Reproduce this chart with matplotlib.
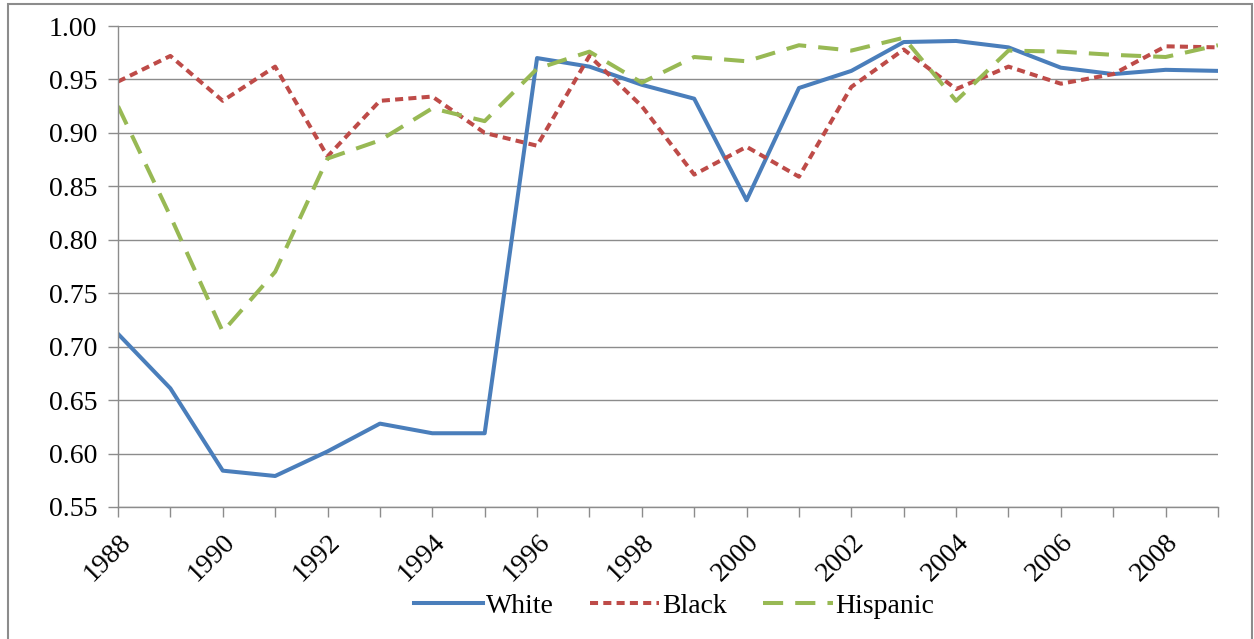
import matplotlib
matplotlib.use("Agg")
import matplotlib.pyplot as plt
from matplotlib.patches import Rectangle

years = list(range(1988, 2010))
white = [0.712, 0.661, 0.584, 0.579, 0.602, 0.628, 0.619, 0.619, 0.970, 0.962, 0.945,
         0.932, 0.837, 0.942, 0.958, 0.985, 0.986, 0.980, 0.961, 0.955, 0.959, 0.958]
black = [0.948, 0.972, 0.930, 0.962, 0.878, 0.930, 0.934, 0.900, 0.888, 0.972, 0.925,
         0.861, 0.887, 0.859, 0.943, 0.978, 0.941, 0.962, 0.946, 0.955, 0.981, 0.980]
hispanic = [0.925, 0.822, 0.714, 0.770, 0.876, 0.893, 0.923, 0.911, 0.960, 0.976, 0.947,
            0.971, 0.967, 0.982, 0.977, 0.989, 0.930, 0.977, 0.976, 0.973, 0.971, 0.982]
y_ticks = [0.55, 0.60, 0.65, 0.70, 0.75, 0.80, 0.85, 0.90, 0.95, 1.00]
x_labels = list(range(1988, 2010, 2))

plt.rcParams["font.family"] = ["Liberation Serif", "DejaVu Serif"]

W, H = 1254, 639
fig = plt.figure(figsize=(W / 100, H / 100), dpi=100)
ax = fig.add_axes([118 / W, 1 - 507 / H, (1218 - 118) / W, (507 - 26) / H])

# outer chart frame
fig.patches.append(Rectangle((8 / W, -0.05), (1252 - 8) / W, 1 - 4 / H + 0.05,
                             transform=fig.transFigure, fill=False,
                             edgecolor="#8c8c8c", lw=1.5))

ax.plot(years, white, color="#4a7ebb", lw=2.9, label="White")
ax.plot(years, black, color="#be4b48", lw=2.9, label="Black", dashes=(2.0, 1.3))
ax.plot(years, hispanic, color="#98b954", lw=2.9, label="Hispanic", dashes=(5.0, 3.0))

ax.set_xlim(1988, 2009)
ax.set_ylim(0.55, 1.00)
ax.set_yticks(y_ticks)
ax.set_yticklabels([f"{v:.2f}" for v in y_ticks])
ax.set_xticks(years)
ax.set_xticklabels([str(y) if y in x_labels else "" for y in years],
                   rotation=45, ha="right", va="top", rotation_mode="anchor")
ax.tick_params(axis="both", labelsize=20, colors="#8c8c8c", labelcolor="black",
               length=7, width=1, direction="out")
ax.tick_params(axis="x", pad=9)
ax.tick_params(axis="y", pad=8)
ax.grid(axis="y", color="#8c8c8c", lw=1)
ax.set_axisbelow(True)
for s in ["top", "right"]:
    ax.spines[s].set_visible(False)
for s in ["left", "bottom"]:
    ax.spines[s].set_color("#8c8c8c")
    ax.spines[s].set_linewidth(1)

fig.legend(loc="center", bbox_to_anchor=(674 / W, 1 - 606 / H), ncol=3, frameon=False,
           fontsize=20, handlelength=2.5, handletextpad=0.1, columnspacing=1.3)

fig.savefig("out.png", dpi=100, facecolor="white")
